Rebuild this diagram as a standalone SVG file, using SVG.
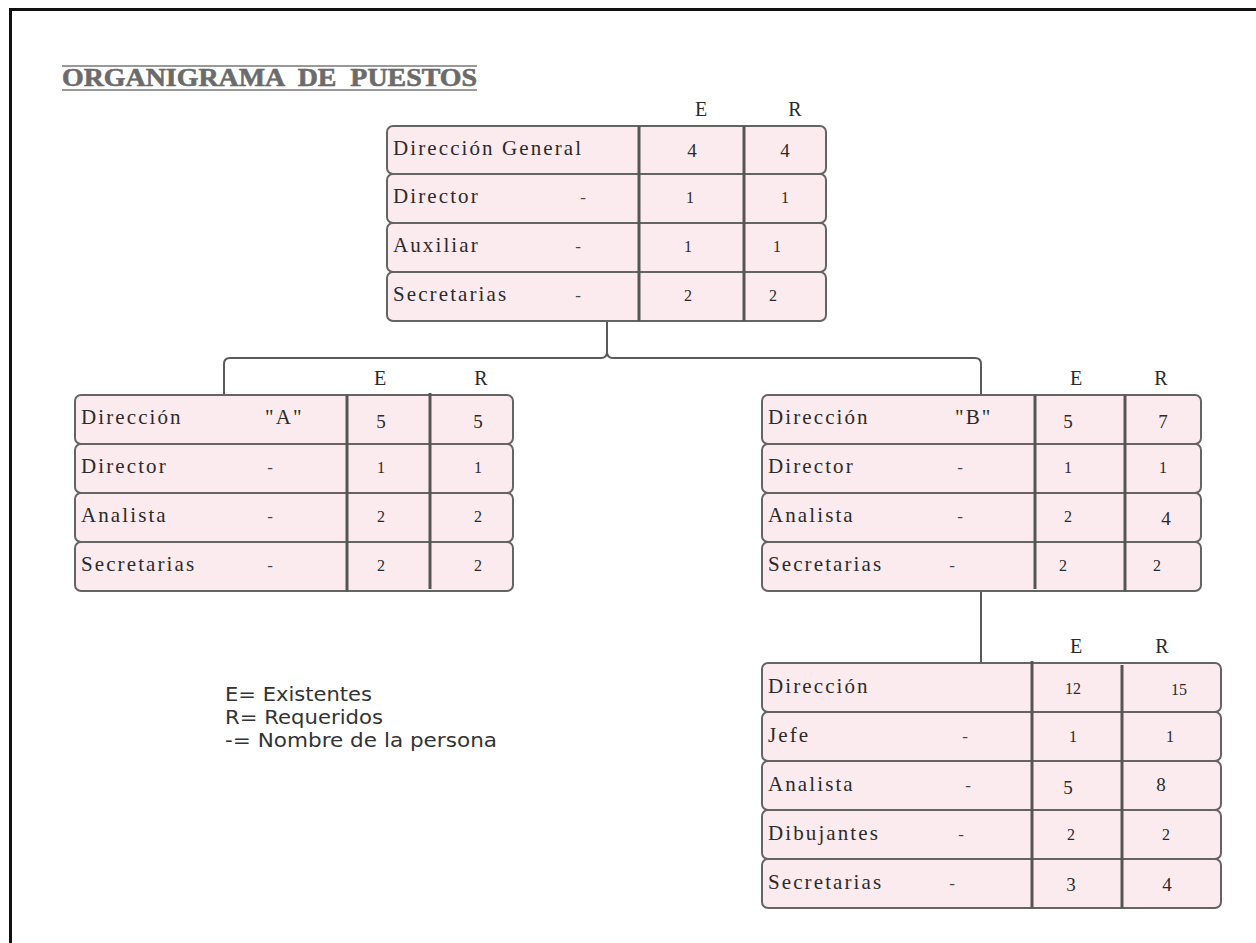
<svg xmlns="http://www.w3.org/2000/svg" width="1256" height="943" viewBox="0 0 1256 943">
  <style>
    .row { fill: #fcebee; stroke: #646464; stroke-width: 2; }
    .col { stroke: #555; stroke-width: 3; }
    .lbl { font-family: "Liberation Serif", serif; font-size: 21px; letter-spacing: 2.1px; fill: #2a2a2a; }
    .num { font-family: "Liberation Serif", serif; font-size: 16px; fill: #2a2a2a; text-anchor: middle; }
    .big { font-size: 19px; }
    .hdr { font-family: "Liberation Serif", serif; font-size: 20px; fill: #2a2a2a; text-anchor: middle; }
    .dash { font-family: "Liberation Serif", serif; font-size: 17px; fill: #444; text-anchor: middle; }
    .link { fill: none; stroke: #5a5a5a; stroke-width: 2; }
    .legend { font-family: "DejaVu Sans", sans-serif; font-size: 19px; fill: #333; }
  </style>

  <!-- page frame -->
  <path d="M10.5 943 V9.5 H1256" fill="none" stroke="#111" stroke-width="3"/>

  <!-- title -->
  <g id="title">
    <line x1="62" y1="66" x2="477" y2="66" stroke="#777" stroke-width="1.5"/>
    <line x1="62" y1="90" x2="477" y2="90" stroke="#777" stroke-width="1.5"/>
    <text x="62" y="86" xml:space="preserve" font-family="Liberation Serif, serif" font-weight="bold" font-size="26" fill="#6b6b6b" stroke="#6b6b6b" stroke-width="0.6" textLength="415" lengthAdjust="spacingAndGlyphs">ORGANIGRAMA  DE  PUESTOS</text>
  </g>

  <!-- connectors -->
  <g id="connectors">
    <path class="link" d="M607 321 V352 Q607 358 601 358 H230 Q224 358 224 364 V395"/>
    <path class="link" d="M607 352 Q607 358 613 358 H975 Q981 358 981 364 V395"/>
    <path class="link" d="M981 591 V663"/>
  </g>

  <!-- Dirección General -->
  <g id="dir-general">
    <text class="hdr" x="701" y="116">E</text>
    <text class="hdr" x="795" y="116">R</text>
    <rect class="row" x="387" y="126" width="439" height="48" rx="6"/>
    <rect class="row" x="387" y="174" width="439" height="49" rx="6"/>
    <rect class="row" x="387" y="223" width="439" height="49" rx="6"/>
    <rect class="row" x="387" y="272" width="439" height="49" rx="6"/>
    <line class="col" x1="639" y1="126" x2="639" y2="321"/>
    <line class="col" x1="744" y1="126" x2="744" y2="321"/>
    <text class="lbl" x="393" y="155">Dirección General</text>
    <text class="lbl" x="393" y="203">Director</text>
    <text class="lbl" x="393" y="252">Auxiliar</text>
    <text class="lbl" x="393" y="301">Secretarias</text>
    <text class="dash" x="583" y="203">-</text>
    <text class="dash" x="578" y="252">-</text>
    <text class="dash" x="578" y="301">-</text>
    <text class="num big" x="692" y="157">4</text>
    <text class="num big" x="785" y="157">4</text>
    <text class="num" x="690" y="203">1</text>
    <text class="num" x="785" y="203">1</text>
    <text class="num" x="688" y="252">1</text>
    <text class="num" x="777" y="252">1</text>
    <text class="num" x="688" y="301">2</text>
    <text class="num" x="773" y="301">2</text>
  </g>

  <!-- Dirección "A" -->
  <g id="dir-a">
    <text class="hdr" x="380" y="385">E</text>
    <text class="hdr" x="481" y="385">R</text>
    <rect class="row" x="75" y="395" width="438" height="49" rx="6"/>
    <rect class="row" x="75" y="444" width="438" height="49" rx="6"/>
    <rect class="row" x="75" y="493" width="438" height="49" rx="6"/>
    <rect class="row" x="75" y="542" width="438" height="49" rx="6"/>
    <line class="col" x1="347" y1="395" x2="347" y2="591"/>
    <line class="col" x1="430" y1="393" x2="430" y2="589"/>
    <text class="lbl" x="81" y="424">Dirección</text>
    <text class="lbl" x="265" y="424">"A"</text>
    <text class="lbl" x="81" y="473">Director</text>
    <text class="lbl" x="81" y="522">Analista</text>
    <text class="lbl" x="81" y="571">Secretarias</text>
    <text class="dash" x="270" y="473">-</text>
    <text class="dash" x="270" y="522">-</text>
    <text class="dash" x="270" y="571">-</text>
    <text class="num big" x="381" y="428">5</text>
    <text class="num big" x="478" y="428">5</text>
    <text class="num" x="381" y="473">1</text>
    <text class="num" x="478" y="473">1</text>
    <text class="num" x="381" y="522">2</text>
    <text class="num" x="478" y="522">2</text>
    <text class="num" x="381" y="571">2</text>
    <text class="num" x="478" y="571">2</text>
  </g>

  <!-- Dirección "B" -->
  <g id="dir-b">
    <text class="hdr" x="1076" y="385">E</text>
    <text class="hdr" x="1161" y="385">R</text>
    <rect class="row" x="762" y="395" width="439" height="49" rx="6"/>
    <rect class="row" x="762" y="444" width="439" height="49" rx="6"/>
    <rect class="row" x="762" y="493" width="439" height="49" rx="6"/>
    <rect class="row" x="762" y="542" width="439" height="49" rx="6"/>
    <line class="col" x1="1035" y1="395" x2="1035" y2="589"/>
    <line class="col" x1="1125" y1="395" x2="1125" y2="591"/>
    <text class="lbl" x="768" y="424">Dirección</text>
    <text class="lbl" x="955" y="424">"B"</text>
    <text class="lbl" x="768" y="473">Director</text>
    <text class="lbl" x="768" y="522">Analista</text>
    <text class="lbl" x="768" y="571">Secretarias</text>
    <text class="dash" x="960" y="473">-</text>
    <text class="dash" x="960" y="522">-</text>
    <text class="dash" x="952" y="571">-</text>
    <text class="num big" x="1068" y="428">5</text>
    <text class="num big" x="1163" y="428">7</text>
    <text class="num" x="1068" y="473">1</text>
    <text class="num" x="1163" y="473">1</text>
    <text class="num" x="1068" y="522">2</text>
    <text class="num big" x="1166" y="525">4</text>
    <text class="num" x="1063" y="571">2</text>
    <text class="num" x="1157" y="571">2</text>
  </g>

  <!-- Dirección (subordinada de B) -->
  <g id="dir-c">
    <text class="hdr" x="1076" y="653">E</text>
    <text class="hdr" x="1162" y="653">R</text>
    <rect class="row" x="762" y="663" width="459" height="49" rx="6"/>
    <rect class="row" x="762" y="712" width="459" height="49" rx="6"/>
    <rect class="row" x="762" y="761" width="459" height="49" rx="6"/>
    <rect class="row" x="762" y="810" width="459" height="49" rx="6"/>
    <rect class="row" x="762" y="859" width="459" height="49" rx="6"/>
    <line class="col" x1="1032" y1="661" x2="1032" y2="908"/>
    <line class="col" x1="1122" y1="665" x2="1122" y2="908"/>
    <text class="lbl" x="768" y="693">Dirección</text>
    <text class="lbl" x="768" y="742">Jefe</text>
    <text class="lbl" x="768" y="791">Analista</text>
    <text class="lbl" x="768" y="840">Dibujantes</text>
    <text class="lbl" x="768" y="889">Secretarias</text>
    <text class="dash" x="965" y="742">-</text>
    <text class="dash" x="968" y="791">-</text>
    <text class="dash" x="961" y="840">-</text>
    <text class="dash" x="952" y="889">-</text>
    <text class="num" x="1073" y="694">12</text>
    <text class="num" x="1179" y="695">15</text>
    <text class="num" x="1073" y="742">1</text>
    <text class="num" x="1170" y="742">1</text>
    <text class="num big" x="1068" y="794">5</text>
    <text class="num big" x="1161" y="791">8</text>
    <text class="num" x="1071" y="840">2</text>
    <text class="num" x="1166" y="840">2</text>
    <text class="num big" x="1071" y="891">3</text>
    <text class="num big" x="1167" y="891">4</text>
  </g>

  <!-- legend -->
  <g id="legend">
    <text class="legend" x="225" y="701" textLength="147" lengthAdjust="spacingAndGlyphs">E= Existentes</text>
    <text class="legend" x="225" y="724" textLength="158" lengthAdjust="spacingAndGlyphs">R= Requeridos</text>
    <text class="legend" x="225" y="747" textLength="272" lengthAdjust="spacingAndGlyphs">-= Nombre de la persona</text>
  </g>
</svg>
